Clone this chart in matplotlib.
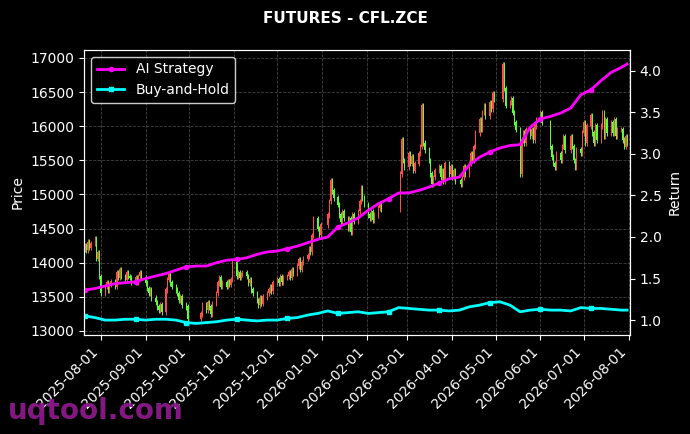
import numpy as np
import pandas as pd
import matplotlib
matplotlib.use("Agg")
import matplotlib.pyplot as plt
import matplotlib.dates as mdates

# daily closes, one row per week (Mon-Fri), NaN = no trading
closes = [
    14250, 14180, 14300, 14220, 14280,
    14350, 14060, 14150, 13800, 13550,
    13650, 13700, 13600, 13680, 13720,
    13650, 13850, 13780, 13900, 13800,
    13750, 13850, 13800, 13780, 13720,
    13780, 13720, 13800, 13850, 13780,
    13700, 13620, 13550, 13600, 13480,
    13420, 13350, 13300, 13380, 13280,
    13600, 13750, 13820, 13700, 13650,
    13600, 13550, 13450, 13500, 13380,
    13350, 13180, np.nan, np.nan, np.nan,
    np.nan, np.nan, np.nan, 13250, 13380,
    13300, 13420, 13350, 13250, 13400,
    13550, 13700, 13780, 13650, 13700,
    13650, 13720, 13680, 13750, 14000,
    13800, 13850, 13780, 13830, 13860,
    13800, 13700, 13750, 13600, 13550,
    13450, 13380, 13480, 13400, 13500,
    13550, 13600, 13650, 13580, 13700,
    13750, 13700, 13800, 13720, 13780,
    13800, 13850, 13780, 13900, 13850,
    13950, 14050, 13900, 14000, 14060,
    14100, 14200, 14150, 14400, 14650,
    14500, 14400, 14550, np.nan, np.nan,
    14700, 14900, 15200, 15050, 14950,
    14850, 14700, 14600, 14750, 14650,
    14500, 14650, 14450, 14700, 14600,
    14750, 14900, 15100, 14950, 14850,
    14700, 14650, 14750, 14620, 14700,
    14800, 14850, 14780, np.nan, np.nan,
    np.nan, np.nan, np.nan, np.nan, np.nan,
    np.nan, 15300, 15800, 15500, 15400,
    15600, 15450, 15550, 15350, 15450,
    15600, 15700, 16300, 15750, 15650,
    15500, 15300, 15150, 15250, 15350,
    15400, 15250, 15350, 15200, 15450,
    15300, 15400, 15250, 15350, 15200,
    np.nan, 15150, 15250, 15400, 15300,
    15450, 15600, 15500, 15700, 15900,
    16100, 15950, 16200, 16300, 16150,
    16350, 16250, 16480, 16400, np.nan,
    np.nan, np.nan, 16900, 16550, 16300,
    16350, 16400, 16200, 16050, 15950,
    15300, 15800, 15900, 15750, 15950,
    15850, 15950, 15800, 16000, 16100,
    16200, 16050, np.nan, np.nan, np.nan,
    15700, 15550, 15450, 15400, 15600,
    15500, 15700, 15850, 15650, np.nan,
    15850, 15700, 15500, 15400, 15650,
    15600, 15900, 16050, 15750, 16000,
    16150, 15900, 15750, 16000, 15800,
    16000, 16200, 15850, 16100, 15900,
    16050, 15900, 16100, 15850, 15950,
    15950, 15800, 15700, 15850, 15750,
]

# weekly return samples (Mondays) plus the last day
ai_strategy = [
    1.36, 1.38, 1.41, 1.44, 1.45, 1.46, 1.50, 1.53, 1.56, 1.60,
    1.64, 1.65, 1.65, 1.69, 1.72, 1.73, 1.75, 1.79, 1.82, 1.83,
    1.86, 1.89, 1.93, 1.97, 2.00, 2.12, 2.17, 2.23, 2.32, 2.40,
    2.46, 2.53, 2.53, 2.56, 2.60, 2.65, 2.70, 2.72, 2.87, 2.96,
    3.02, 3.07, 3.10, 3.11, 3.32, 3.42, 3.45, 3.49, 3.55, 3.71,
    3.77, 3.88, 3.98, 4.04, 4.08,
]
buy_hold = [
    1.05, 1.03, 1.00, 1.00, 1.01, 1.01, 1.00, 1.01, 1.01, 1.00,
    0.97, 0.96, 0.97, 0.98, 1.00, 1.01, 1.00, 0.99, 1.00, 1.00,
    1.02, 1.03, 1.06, 1.08, 1.11, 1.08, 1.09, 1.10, 1.08, 1.09,
    1.10, 1.15, 1.14, 1.13, 1.12, 1.12, 1.11, 1.12, 1.16, 1.18,
    1.21, 1.22, 1.18, 1.10, 1.12, 1.13, 1.12, 1.12, 1.11, 1.15,
    1.14, 1.14, 1.13, 1.12, 1.12,
]

days = pd.bdate_range("2025-07-21", "2026-07-31")
weeks = list(pd.date_range("2025-07-21", "2026-07-27", freq="W-MON")) + [pd.Timestamp("2026-07-31")]

c = np.array(closes, dtype=float)
o = np.full_like(c, np.nan)
last = c[0] - 50
for i, v in enumerate(c):
    if np.isnan(v):
        continue
    o[i] = last
    last = v
hi = np.fmax(o, c) + 40
lo = np.fmin(o, c) - 40
up = c >= o
col = np.where(up, "#ff4d4d", "#5cff3a")
ok = ~np.isnan(c)

bg = "black"
fig, ax = plt.subplots(figsize=(6.9, 4.34), dpi=100)
fig.patch.set_facecolor(bg)
ax.set_facecolor(bg)
fig.subplots_adjust(left=0.122, right=0.913, bottom=0.228, top=0.885)

x = mdates.date2num(days)
ax.vlines(x[ok], lo[ok], hi[ok], colors=col[ok], linewidth=0.7, zorder=2)
ax.bar(x[ok], np.abs(c - o)[ok] + 10, bottom=np.fmin(o, c)[ok], width=0.6,
       color=col[ok], linewidth=0, zorder=3)

ax.set_ylim(12940, 17117)
ax.set_yticks(np.arange(13000, 17001, 500))
ax.set_xlim(mdates.date2num(pd.Timestamp("2025-07-20 12:00")),
            mdates.date2num(pd.Timestamp("2026-08-02")))
ax.xaxis.set_major_locator(mdates.MonthLocator())
ax.xaxis.set_major_formatter(mdates.DateFormatter("%Y-%m-%d"))
ax.grid(True, color="#555555", linestyle="--", linewidth=0.6, alpha=0.8)
ax.set_ylabel("Price", color="white")
for lab in ax.get_xticklabels():
    lab.set_rotation(45)
    lab.set_ha("right")

ax2 = ax.twinx()
ax2.plot(weeks, ai_strategy, color="#ff00ff", linewidth=2, marker="o",
         markersize=3, markevery=5, label="AI Strategy")
ax2.plot(weeks, buy_hold, color="#00ffff", linewidth=2, marker="s",
         markersize=3, markevery=5, label="Buy-and-Hold")
ax2.set_ylim(0.82, 4.25)
ax2.set_yticks([1.0, 1.5, 2.0, 2.5, 3.0, 3.5, 4.0])
ax2.set_ylabel("Return", color="white")

for a in (ax, ax2):
    a.tick_params(colors="white", labelsize=10)
    for s in a.spines.values():
        s.set_color("white")

leg = ax2.legend(loc="upper left", facecolor="black", edgecolor="white",
                 fontsize=10)
for t in leg.get_texts():
    t.set_color("white")

fig.suptitle("FUTURES - CFL.ZCE", color="white", fontsize=11,
             fontweight="bold", y=0.975)
fig.text(0.012, 0.035, "uqtool.com", color="#8b1a8b", fontsize=20,
         fontweight="bold", alpha=0.95, zorder=0)

fig.savefig("out.png", facecolor=bg)
